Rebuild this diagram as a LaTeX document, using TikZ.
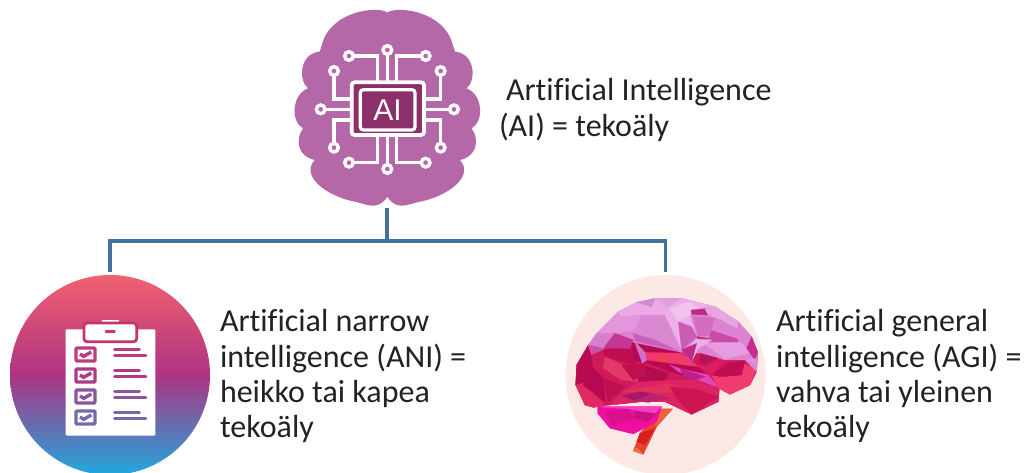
\documentclass[tikz,border=0pt]{standalone}
\usepackage{fontspec}
\setmainfont[Ligatures=CommonOff]{Carlito}
\newfontfamily\aifont{Liberation Sans}
\tikzset{
 x=1pt,y=-1pt,
 conn/.style={draw=connblue,line width=3.2pt},
 label/.style={anchor=north west,align=left,inner sep=0pt,outer sep=0pt,text=txt,font=\fontsize{32}{35.3}\selectfont},
 iconbox/.style={inner sep=0pt,outer sep=0pt,rectangle,minimum width=190pt,minimum height=200pt},
 disc/.style={circle,inner sep=0pt,outer sep=3pt,minimum size=200pt},
 trace/.style={draw=white,line width=3.3pt},
 pin/.style={draw=white,line width=3.4pt,fill=aipurple},
 zoomed/.style={x=0.3333pt,y=-0.3333pt},
 bar/.style={line width=3pt,line cap=round},
}
\definecolor{connblue}{HTML}{41719C}
\definecolor{txt}{HTML}{222222}
\definecolor{aipurple}{HTML}{B568A8}
\definecolor{chip}{HTML}{8B3069}
\definecolor{rowa}{HTML}{BC3C80}
\definecolor{rowb}{HTML}{AC3A88}
\definecolor{rowc}{HTML}{8D539C}
\definecolor{rowd}{HTML}{7568AE}
\newcommand{\pg}[2]{\definecolor{polyc}{HTML}{#1}\filldraw[fill=polyc,draw=polyc,line width=.25pt] #2 -- cycle;}
\newcommand{\row}[3]{%
 \draw[#1,line width=3.4pt,fill=white,rounded corners=1pt] (228,#2+5) rectangle (285,#2+44);
 \draw[#1,line width=3.4pt] (240,#2+23) -- (251,#2+30) -- (274,#2+17);
 \draw[#1,bar] (344,#2+10) -- (418,#2+10);
 \draw[#1,bar] (344,#2+29) -- (438,#2+29);
}
\begin{document}
\begin{tikzpicture}
\useasboundingbox (0,0) rectangle (1024,472);
\clip (0,0) rectangle (1024,472);
% nodes
\node[iconbox] (ai) at (387,108) {};
\node[disc,top color={rgb,255:red,241;green,97;blue,112},bottom color={rgb,255:red,32;green,168;blue,222},middle color={rgb,255:red,174;green,51;blue,130}] (ani) at (110,375) {};
\node[disc,fill={rgb,255:red,252;green,233;blue,230}] (agi) at (665.5,375) {};
\coordinate (j) at (387,241);
\draw[conn] (ai.south) -- (j);
\draw[conn] (ani.north) |- (j) -| (agi.north);
% AI icon
\begin{scope}[shift={(280,0)},zoomed]
\fill[aipurple] (322,38) .. controls (340,20) and (470,25) .. (512,115) -- (525,155)
 .. controls (585,160) and (590,240) .. (560,265)
 .. controls (610,285) and (612,365) .. (575,385)
 .. controls (600,420) and (590,470) .. (540,480)
 .. controls (585,530) and (500,590) .. (420,605)
 .. controls (385,612) and (350,635) .. (322,590)
 .. controls (294,635) and (259,612) .. (224,605)
 .. controls (144,590) and (59,530) .. (104,480)
 .. controls (54,470) and (44,420) .. (69,385)
 .. controls (32,365) and (34,285) .. (84,265)
 .. controls (54,240) and (59,160) .. (119,155)
 -- (132,115) .. controls (174,25) and (304,20) .. (322,38) -- cycle;
\draw[trace] (322,150) -- (322,245);
\draw[trace] (207,168) -- (293,168) -- (293,245);
\draw[trace] (437,168) -- (350,168) -- (350,245);
\draw[trace] (162,213) -- (162,297) -- (212,297);
\draw[trace] (482,213) -- (482,297) -- (435,297);
\draw[trace] (122,328) -- (212,328);
\draw[trace] (522,328) -- (435,328);
\draw[trace] (162,443) -- (162,360) -- (212,360);
\draw[trace] (482,443) -- (482,360) -- (435,360);
\draw[trace] (207,488) -- (293,488) -- (293,408);
\draw[trace] (437,488) -- (350,488) -- (350,408);
\draw[trace] (322,507) -- (322,408);
\foreach \p in {(322,150),(207,168),(437,168),(162,213),(482,213),(122,328),(522,328),(162,443),(482,443),(207,488),(437,488),(322,507)}
  \filldraw[pin] \p circle (13);
\filldraw[draw=white,line width=3.8pt,fill=chip,rounded corners=3pt] (215,247) rectangle (432,405);
\draw[draw=white,line width=3.2pt,rounded corners=3pt] (241,269) rectangle (405,390);
\node[inner sep=0pt,text=white,font=\aifont\fontsize{30}{30}\selectfont] (aitext) at (323,331) {AI};
\end{scope}
% clipboard
\begin{scope}[shift={(0,265)},zoomed]
\fill[white,rounded corners=1pt] (197,193) rectangle (466,512);
\fill[white] (305,165) arc[start angle=180,end angle=0,x radius=26.5,y radius=18] -- cycle;
\filldraw[draw=rowa!85!red,fill=white,line width=2.8pt,rounded corners=3pt] (252,174) rectangle (410,230);
\fill[rowa,rounded corners=1pt] (315,195) rectangle (347,204);
\row{rowa}{244}{}
\row{rowb}{307}{}
\row{rowc}{370}{}
\row{rowd}{433}{}
\end{scope}
% low-poly brain
\begin{scope}[shift={(555,265)},zoomed]
\pg{E8432F}{(318,432)--(352,432)--(305,485)--(265,568)--(235,558)--(255,505)}
\pg{F0623F}{(318,432)--(352,432)--(305,485)--(300,478)}
\pg{D92020}{(300,490)--(270,540)--(245,530)--(255,505)}
\pg{F07050}{(245,548)--(265,568)--(235,558)}
\pg{EE0EA0}{(128,425)--(320,425)--(305,470)--(235,507)--(165,490)--(128,445)}
\pg{F540C4}{(128,425)--(320,425)--(300,445)--(220,432)}
\pg{D90F8E}{(150,440)--(220,432)--(240,460)--(170,480)}
\pg{C81080}{(240,440)--(300,445)--(280,470)--(240,460)}
% silhouette of the lower brain
\pg{D0185A}{(100,240)--(65,300)--(62,360)--(90,420)--(115,427)--(165,420)--(260,410)--(330,410)--(410,448)--(490,410)--(493,370)--(525,388)--(585,360)--(605,320)--(608,260)--(440,230)--(225,225)}
% lower lobes
\pg{B80A50}{(100,240)--(65,300)--(62,360)--(85,355)--(115,310)--(110,268)}
\pg{E02A62}{(62,360)--(85,355)--(150,420)--(115,427)--(90,420)}
\pg{B50A4F}{(85,360)--(115,310)--(145,340)--(150,410)}
\pg{D01C58}{(110,268)--(150,275)--(145,310)--(115,310)}
\pg{C0104F}{(145,340)--(210,365)--(160,410)}
\pg{E43868}{(150,275)--(225,310)--(250,350)--(200,345)--(145,310)}
\pg{BE0E50}{(145,250)--(225,250)--(245,300)--(150,275)}
\pg{DC2462}{(165,420)--(205,380)--(250,350)--(340,345)--(420,345)--(493,370)--(490,410)--(410,448)--(330,410)--(260,410)}
\pg{E4305F}{(200,380)--(340,355)--(410,380)--(300,385)}
\pg{A81868}{(200,392)--(255,380)--(290,385)--(240,408)}
\pg{C0206E}{(240,408)--(290,385)--(345,400)--(280,412)}
\pg{CC1450}{(345,365)--(420,372)--(490,395)--(410,448)--(370,405)}
\pg{B00C4E}{(250,350)--(330,345)--(340,325)--(260,300)}
\pg{C01050}{(235,345)--(200,300)--(245,300)--(270,290)--(270,330)}
% parietal band
\pg{B80A52}{(225,230)--(380,262)--(430,305)--(490,370)--(420,340)--(345,320)--(270,290)--(240,290)}
\pg{F0386C}{(270,262)--(380,265)--(430,305)--(350,295)--(275,285)}
\pg{D070C8}{(238,228)--(270,262)--(275,285)--(262,295)}
\pg{E85020}{(310,282)--(335,282)--(335,290)--(310,287)}
\pg{E048B8}{(345,300)--(380,312)--(460,330)--(490,368)--(430,345)--(370,320)}
\pg{C0208A}{(375,310)--(450,335)--(420,345)--(385,332)}
% occipital
\pg{F23A72}{(470,332)--(545,290)--(605,310)--(585,360)--(525,388)--(490,370)}
\pg{C00C50}{(470,330)--(520,295)--(570,285)--(560,330)--(500,335)}
\pg{DE1A60}{(430,305)--(440,270)--(510,285)--(470,330)}
% upper light lobes
\pg{DD82D0}{(100,240)--(125,205)--(190,140)--(245,112)--(300,100)--(380,100)--(480,125)--(550,170)--(590,215)--(608,260)--(605,320)--(570,285)--(510,285)--(440,265)--(380,262)--(225,230)--(145,250)--(110,268)}
\pg{EBAAE6}{(190,140)--(245,112)--(300,100)--(345,125)--(330,150)--(260,150)--(195,155)}
\pg{D08AD4}{(245,112)--(300,100)--(290,125)}
\pg{E0A0E0}{(300,100)--(380,100)--(345,130)}
\pg{E296DC}{(190,140)--(125,205)--(180,205)--(240,195)--(260,150)--(195,155)}
\pg{D680CC}{(125,205)--(100,240)--(110,268)--(150,250)--(180,205)}
\pg{C43694}{(180,205)--(235,225)--(225,250)--(145,250)}
\pg{DA88D2}{(260,150)--(330,150)--(380,255)--(300,225)--(235,205)}
\pg{C960BC}{(235,205)--(300,225)--(370,258)--(270,235)--(240,228)}
\pg{EBB0E8}{(345,125)--(380,100)--(480,125)--(430,130)--(405,150)--(425,215)--(380,255)--(330,150)}
\pg{F2C2EF}{(345,130)--(405,110)--(430,130)--(405,150)--(370,170)}
\pg{CB5CB5}{(370,170)--(410,185)--(425,215)--(380,255)}
\pg{B82C7E}{(408,135)--(450,132)--(460,150)--(410,148)}
\pg{D46CC0}{(415,155)--(480,160)--(470,210)--(430,215)}
\pg{E6A4E0}{(450,132)--(480,125)--(550,170)--(545,190)--(490,160)--(460,150)}
\pg{C84CA6}{(470,195)--(545,205)--(550,232)--(460,230)}
\pg{DC82D4}{(480,160)--(545,190)--(590,215)--(560,225)--(470,195)}
\pg{E59CE0}{(445,235)--(555,232)--(590,262)--(510,282)}
\pg{C0306E}{(425,215)--(460,220)--(460,232)--(430,232)}
\pg{EBB0E8}{(425,222)--(470,225)--(430,250)--(410,290)--(385,262)}
\pg{C02B8A}{(380,255)--(425,235)--(410,290)}
\pg{B5145C}{(435,265)--(490,280)--(450,300)--(435,295)}
\pg{C62D8E}{(590,215)--(608,260)--(600,285)--(575,250)}
\pg{E090DC}{(578,285)--(600,280)--(605,300)}
\pg{CC4EA8}{(100,240)--(145,250)--(110,268)}
\end{scope}
% labels
\node[label] (t1) at (499,78.5) {\hspace*{7pt}Artificial Intelligence\\(AI) = tekoäly};
\node[label] (t2) at (220,309.5) {Artificial narrow\\intelligence (ANI) =\\heikko tai kapea\\tekoäly};
\node[label] (t3) at (776,309.5) {Artificial general\\intelligence (AGI) =\\vahva tai yleinen\\tekoäly};
\end{tikzpicture}
\end{document}
